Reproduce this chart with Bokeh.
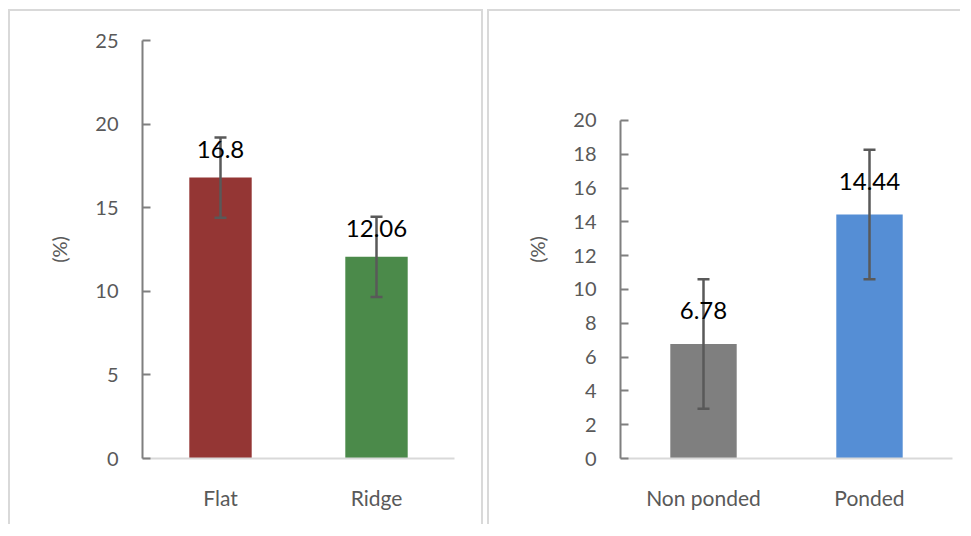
from bokeh.plotting import figure
from bokeh.layouts import row
from bokeh.models import ColumnDataSource, Range1d, FactorRange, FixedTicker
from bokeh.embed import file_html
from bokeh.resources import INLINE
from bokeh.core.properties import value

# ---- data ----
left_cats = ["Flat", "Ridge"]
left_vals = [16.8, 12.06]
left_err = [2.4, 2.4]
left_colors = ["#943634", "#4b8a4a"]
left_labels = ["16.8", "12.06"]
left_ticks = [0, 5, 10, 15, 20, 25]

right_cats = ["Non ponded", "Ponded"]
right_vals = [6.78, 14.44]
right_err = [3.83, 3.83]
right_colors = ["#7f7f7f", "#558ed5"]
right_labels = ["6.78", "14.44"]
right_ticks = [0, 2, 4, 6, 8, 10, 12, 14, 16, 18, 20]

FONT = "Lato"
AXIS_GREY = "#7f7f7f"
TEXT_GREY = "#595959"
ERR_GREY = "#595959"


def make_panel(cats, vals, errs, colors, labels, ticks, ymax_axis, ymax_range, width, height,
               mb_left, mb_right, mb_top, mb_bottom, label_dy, styles):
    src = ColumnDataSource(dict(
        cat=cats, val=vals,
        lo=[v - e for v, e in zip(vals, errs)],
        hi=[v + e for v, e in zip(vals, errs)],
        color=colors, label=labels,
    ))
    p = figure(x_range=FactorRange(factors=cats), y_range=Range1d(0, ymax_range),
               width=width, height=height, output_backend="svg", toolbar_location=None,
               min_border_left=mb_left, min_border_right=mb_right,
               min_border_top=mb_top, min_border_bottom=mb_bottom,
               styles=styles)
    p.outline_line_color = None
    p.background_fill_color = "white"
    p.border_fill_color = "white"
    p.xgrid.visible = False
    p.ygrid.visible = False

    p.vbar(x="cat", top="val", bottom=0, width=0.4, source=src,
           fill_color="color", line_color=None)

    # error bars
    p.segment(x0="cat", y0="lo", x1="cat", y1="hi", source=src,
              line_color=ERR_GREY, line_width=2.5)
    p.scatter(x="cat", y="hi", source=src, marker="dash", size=12,
              line_color=ERR_GREY, line_width=2.5)
    p.scatter(x="cat", y="lo", source=src, marker="dash", size=12,
              line_color=ERR_GREY, line_width=2.5)

    p.text(x="cat", y="val", text="label", source=src, text_align="center",
           text_baseline="middle", y_offset=label_dy, text_color="black",
           text_font=value(FONT), text_font_size="24px")

    # y axis
    ya = p.yaxis[0]
    ya.ticker = FixedTicker(ticks=ticks)
    ya.bounds = (0, ymax_axis)
    ya.axis_line_color = AXIS_GREY
    ya.axis_line_width = 2
    ya.major_tick_line_color = AXIS_GREY
    ya.major_tick_line_width = 2
    ya.major_tick_in = 8
    ya.major_tick_out = 0
    ya.minor_tick_line_color = None
    ya.major_label_text_color = TEXT_GREY
    ya.major_label_text_font = FONT
    ya.major_label_text_font_size = "20px"
    ya.major_label_standoff = 24
    ya.axis_label = "(%)"
    ya.axis_label_text_color = TEXT_GREY
    ya.axis_label_text_font = FONT
    ya.axis_label_text_font_size = "20px"
    ya.axis_label_text_font_style = "normal"
    ya.axis_label_standoff = 21

    # x axis
    xa = p.xaxis[0]
    xa.axis_line_color = "#d9d9d9"
    xa.axis_line_width = 2
    xa.major_tick_line_color = None
    xa.minor_tick_line_color = None
    xa.major_label_text_color = TEXT_GREY
    xa.major_label_text_font = FONT
    xa.major_label_text_font_size = "21px"
    xa.major_label_standoff = 20
    return p


H = 515
TOP = 29
BOTTOM = 68

p1 = make_panel(left_cats, left_vals, left_err, left_colors, left_labels, left_ticks,
                25, 25,
                width=475, height=H, mb_left=132, mb_right=31, mb_top=TOP, mb_bottom=BOTTOM,
                label_dy=-28,
                styles={"border-top": "2px solid #d9d9d9", "border-left": "2px solid #d9d9d9",
                        "border-right": "2px solid #d9d9d9"})

p2 = make_panel(right_cats, right_vals, right_err, right_colors, right_labels, right_ticks,
                20, 24.73,
                width=473, height=H, mb_left=131, mb_right=10, mb_top=TOP, mb_bottom=BOTTOM,
                label_dy=-33,
                styles={"border-top": "2px solid #d9d9d9", "border-left": "2px solid #d9d9d9"})

layout = row(p1, p2, spacing=4, styles={"margin-left": "8px", "margin-top": "9px"})

open("out.html", "w").write(file_html(layout, INLINE))
